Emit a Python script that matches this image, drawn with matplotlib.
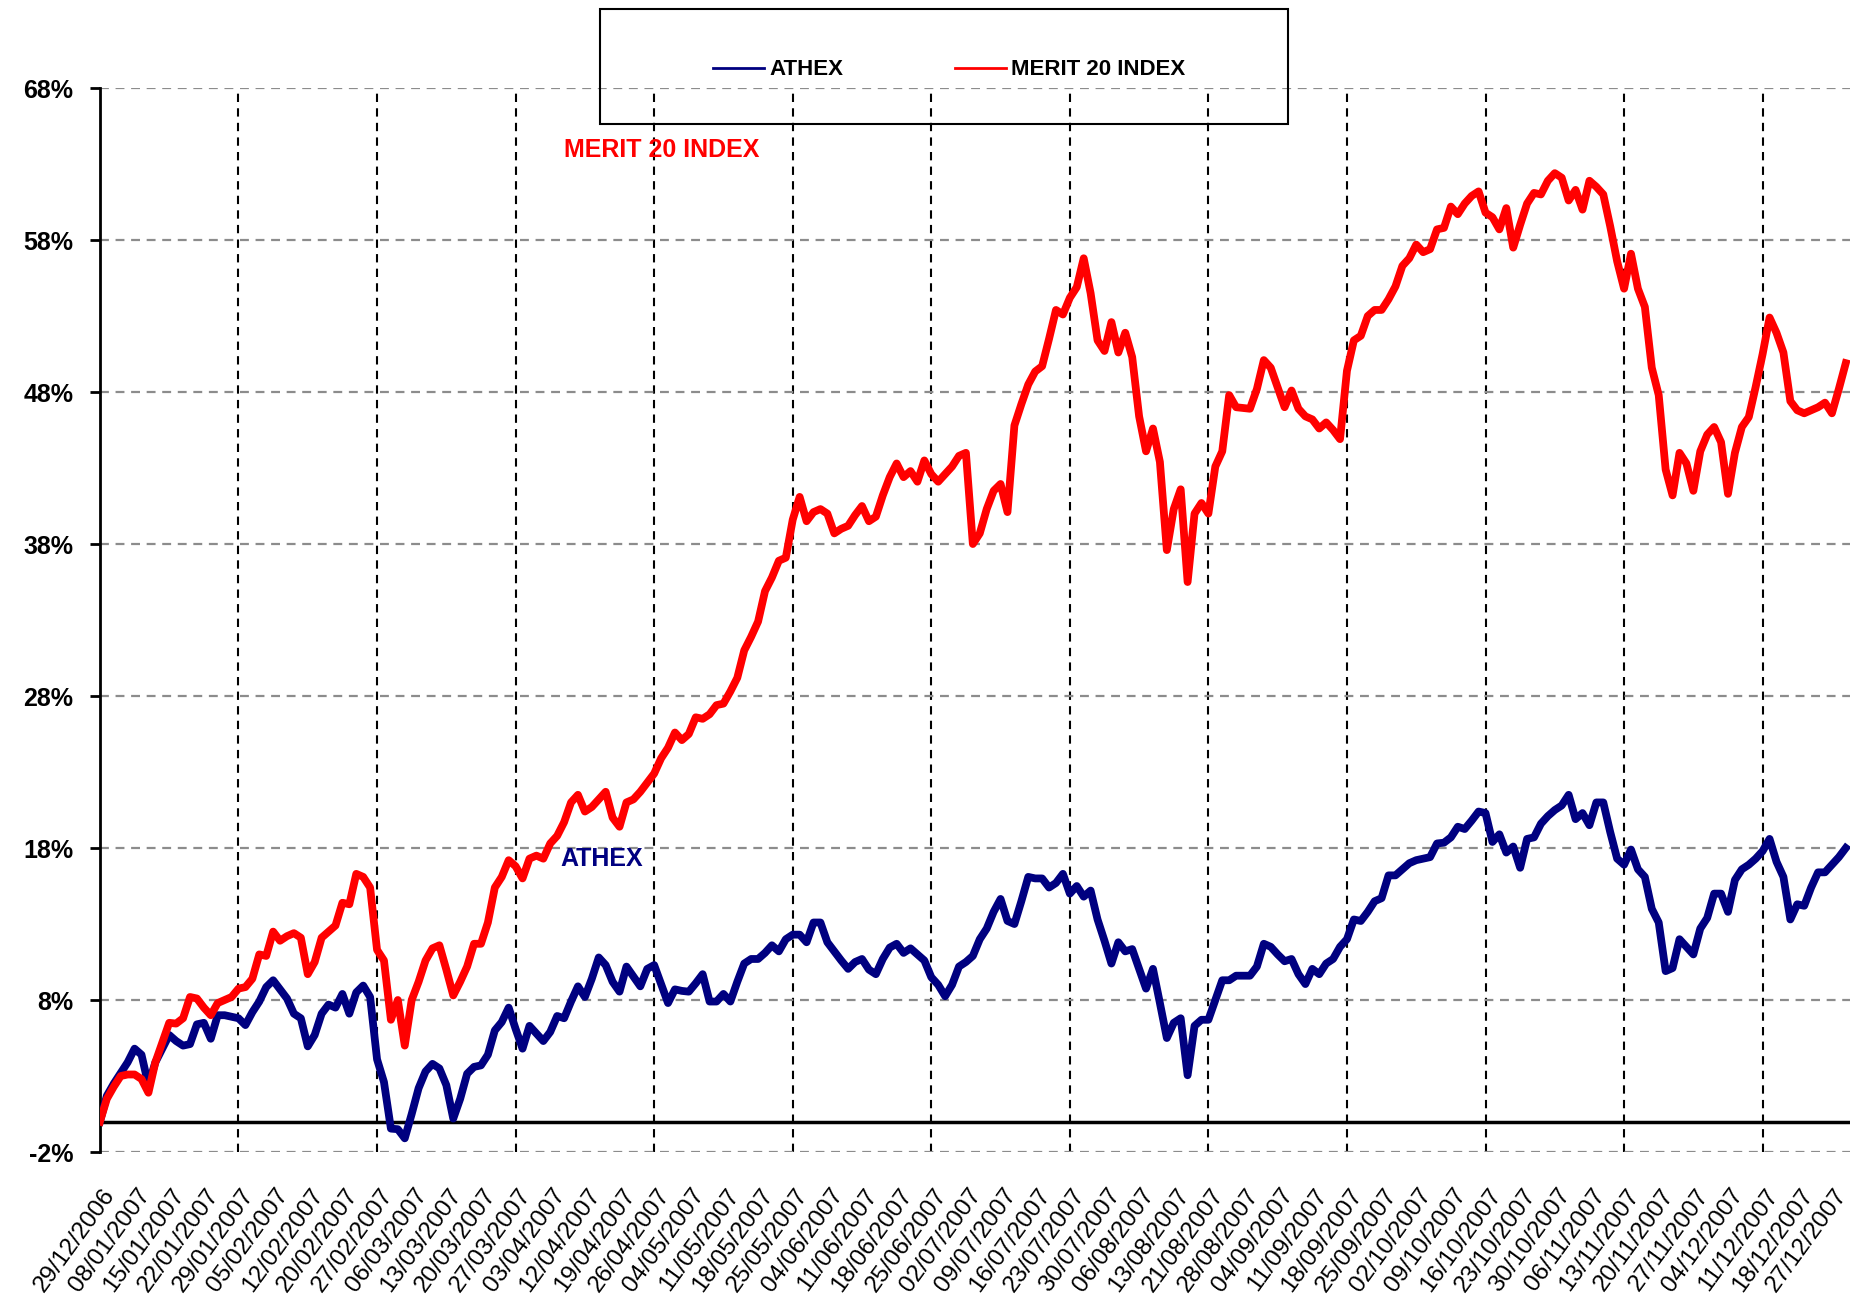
import matplotlib
matplotlib.use("Agg")
import matplotlib.pyplot as plt
import matplotlib.transforms as mtransforms
from matplotlib.patches import Rectangle
import numpy as np

plt.rcParams['font.family'] = ['Liberation Sans', 'DejaVu Sans']

# Cumulative return (%) since 29/12/2006, one value per trading day
merit = [
    0.0, 1.5, 2.3, 3.0, 3.1, 3.1, 2.8, 1.9, 3.9, 5.2,
    6.5, 6.45, 6.8, 8.2, 8.1, 7.5, 7.0, 7.8, 8.0, 8.2,
    8.75, 8.85, 9.4, 11.0, 10.9, 12.5, 11.9, 12.2, 12.4, 12.1,
    9.7, 10.5, 12.1, 12.5, 12.9, 14.4, 14.3, 16.3, 16.1, 15.4,
    11.3, 10.6, 6.7, 8.0, 5.0, 8.0, 9.2, 10.6, 11.4, 11.6,
    10.0, 8.3, 9.2, 10.2, 11.7, 11.7, 13.1, 15.4, 16.1, 17.2,
    16.8, 16.0, 17.3, 17.5, 17.3, 18.3, 18.8, 19.7, 21.0, 21.5,
    20.4, 20.7, 21.2, 21.7, 20.0, 19.4, 21.0, 21.2, 21.7, 22.3,
    22.9, 23.9, 24.6, 25.6, 25.1, 25.5, 26.6, 26.5, 26.8, 27.4,
    27.5, 28.3, 29.2, 31.0, 31.9, 32.9, 34.9, 35.8, 36.9, 37.1,
    39.6, 41.1, 39.5, 40.1, 40.3, 40.0, 38.7, 39.0, 39.2, 39.9,
    40.5, 39.5, 39.8, 41.2, 42.4, 43.3, 42.4, 42.8, 42.1, 43.5,
    42.6, 42.1, 42.6, 43.1, 43.8, 44.0, 38.0, 38.7, 40.3, 41.5,
    41.95, 40.1, 45.8, 47.2, 48.5, 49.35, 49.7, 51.5, 53.4, 53.1,
    54.2, 54.9, 56.8, 54.5, 51.4, 50.7, 52.6, 50.6, 51.9, 50.3,
    46.4, 44.1, 45.6, 43.4, 37.6, 40.3, 41.6, 35.5, 40.0, 40.7,
    40.0, 43.1, 44.1, 47.8, 47.0, 46.95, 46.9, 48.2, 50.1, 49.6,
    48.3, 47.0, 48.1, 46.9, 46.4, 46.2, 45.6, 46.0, 45.5, 44.9,
    49.4, 51.4, 51.7, 53.0, 53.4, 53.4, 54.1, 54.95, 56.3, 56.8,
    57.7, 57.2, 57.4, 58.7, 58.8, 60.2, 59.7, 60.4, 60.9, 61.2,
    59.8, 59.5, 58.7, 60.1, 57.5, 59.0, 60.4, 61.1, 61.0, 61.9,
    62.4, 62.1, 60.6, 61.3, 60.0, 61.9, 61.5, 61.0, 58.9, 56.6,
    54.8, 57.1, 54.8, 53.6, 49.6, 47.8, 42.9, 41.2, 44.0, 43.3,
    41.5, 44.1, 45.2, 45.7, 44.7, 41.3, 44.0, 45.7, 46.35, 48.35,
    50.5, 52.9, 51.9, 50.6, 47.4, 46.8, 46.6, 46.8, 47.0, 47.3,
    46.6, 48.2, 49.9,
]

athex = [
    0.0, 1.7, 2.5, 3.2, 3.9, 4.8, 4.4, 2.4, 3.9, 4.8,
    5.7, 5.3, 5.0, 5.1, 6.4, 6.5, 5.45, 7.0, 7.0, 6.9,
    6.8, 6.35, 7.2, 7.9, 8.85, 9.3, 8.7, 8.1, 7.1, 6.8,
    4.95, 5.7, 7.1, 7.7, 7.5, 8.4, 7.1, 8.5, 8.95, 8.2,
    4.1, 2.6, -0.46, -0.5, -1.1, 0.5, 2.2, 3.3, 3.8, 3.5,
    2.4, 0.2, 1.5, 3.15, 3.6, 3.7, 4.4, 6.0, 6.55, 7.5,
    6.1, 4.8, 6.3, 5.8, 5.3, 5.9, 6.95, 6.8, 7.9, 8.9,
    8.2, 9.4, 10.8, 10.3, 9.2, 8.55, 10.2, 9.55, 8.9, 10.05,
    10.3, 9.05, 7.8, 8.7, 8.6, 8.55, 9.1, 9.7, 7.9, 7.9,
    8.4, 7.9, 9.2, 10.4, 10.7, 10.7, 11.1, 11.6, 11.2, 12.0,
    12.3, 12.3, 11.8, 13.1, 13.1, 11.8, 11.2, 10.6, 10.05, 10.5,
    10.7, 10.0, 9.7, 10.7, 11.45, 11.7, 11.1, 11.4, 11.0, 10.6,
    9.5, 9.0, 8.25, 9.0, 10.2, 10.5, 10.9, 12.0, 12.7, 13.8,
    14.65, 13.2, 13.0, 14.5, 16.1, 16.0, 16.0, 15.4, 15.7, 16.3,
    15.0, 15.5, 14.8, 15.2, 13.3, 11.9, 10.4, 11.8, 11.2, 11.35,
    10.05, 8.75, 10.05, 7.8, 5.5, 6.5, 6.8, 3.05, 6.3, 6.7,
    6.7, 8.0, 9.3, 9.3, 9.6, 9.6, 9.6, 10.2, 11.7, 11.5,
    11.0, 10.55, 10.7, 9.7, 9.05, 10.05, 9.7, 10.4, 10.7, 11.5,
    12.0, 13.3, 13.2, 13.8, 14.5, 14.7, 16.2, 16.2, 16.6, 17.0,
    17.2, 17.3, 17.4, 18.3, 18.35, 18.7, 19.4, 19.25, 19.8, 20.4,
    20.3, 18.4, 18.9, 17.7, 18.1, 16.7, 18.6, 18.7, 19.6, 20.1,
    20.5, 20.8, 21.5, 19.9, 20.3, 19.5, 21.0, 21.0, 19.05, 17.3,
    16.9, 17.9, 16.6, 16.1, 14.0, 13.1, 9.9, 10.1, 12.0, 11.5,
    11.0, 12.7, 13.4, 15.0, 15.0, 13.8, 15.9, 16.6, 16.9, 17.3,
    17.8, 18.6, 17.1, 16.1, 13.3, 14.3, 14.2, 15.4, 16.4, 16.4,
    16.9, 17.4, 18.0,
]

date_labels = [
    "29/12/2006", "08/01/2007", "15/01/2007", "22/01/2007", "29/01/2007",
    "05/02/2007", "12/02/2007", "20/02/2007", "27/02/2007", "06/03/2007",
    "13/03/2007", "20/03/2007", "27/03/2007", "03/04/2007", "12/04/2007",
    "19/04/2007", "26/04/2007", "04/05/2007", "11/05/2007", "18/05/2007",
    "25/05/2007", "04/06/2007", "11/06/2007", "18/06/2007", "25/06/2007",
    "02/07/2007", "09/07/2007", "16/07/2007", "23/07/2007", "30/07/2007",
    "06/08/2007", "13/08/2007", "21/08/2007", "28/08/2007", "04/09/2007",
    "11/09/2007", "18/09/2007", "25/09/2007", "02/10/2007", "09/10/2007",
    "16/10/2007", "23/10/2007", "30/10/2007", "06/11/2007", "13/11/2007",
    "20/11/2007", "27/11/2007", "04/12/2007", "11/12/2007", "18/12/2007",
    "27/12/2007",
]
label_step = 5      # trading days between date labels
grid_step = 20      # trading days between vertical grid lines
y_ticks = [-2, 8, 18, 28, 38, 48, 58, 68]

RED = "#FF0000"
NAVY = "#000080"

fig = plt.figure(figsize=(18.54, 13.10), dpi=100)
ax = fig.add_axes([0.0539, 0.1206, 0.9439, 0.8122])

x = np.arange(len(merit))
n_last = len(merit) - 1

# grid
ax.set_ylim(-2, 68)
ax.set_xlim(0, n_last + 0.6)
ax.set_yticks(y_ticks)
ax.set_yticklabels([f"{v}%" for v in y_ticks], fontsize=18, fontweight="bold")
ax.yaxis.grid(True, color="#8c8c8c", linestyle=(0, (4, 3)), linewidth=1.6, zorder=0)
for xv in range(grid_step, n_last, grid_step):
    ax.axvline(xv, color="black", linestyle=(0, (4, 3)), linewidth=1.5, zorder=1)
ax.axhline(0, color="black", linewidth=2.5, zorder=2)

ax.plot(x, athex, color=NAVY, linewidth=5.6, solid_joinstyle="round", zorder=3)
ax.plot(x, merit, color=RED, linewidth=5.6, solid_joinstyle="round", zorder=4)

# spines and ticks
for side in ["top", "right", "bottom"]:
    ax.spines[side].set_visible(False)
ax.spines["left"].set_linewidth(2)
ax.tick_params(axis="y", length=7, width=2, pad=12)

ax.set_xticks(np.arange(len(date_labels)) * label_step)
ax.set_xticklabels(date_labels, rotation=54, ha="right", va="center",
                   rotation_mode="anchor", fontsize=17.5)
ax.tick_params(axis="x", length=0, pad=28)
shift = mtransforms.ScaledTranslation(11 / 100, 0, fig.dpi_scale_trans)
for lbl in ax.get_xticklabels():
    lbl.set_transform(lbl.get_transform() + shift)

# series labels inside the plot
ax.text(67, 63.9, "MERIT 20 INDEX", color=RED, fontsize=18, fontweight="bold",
        ha="left", va="center")
ax.text(66.5, 17.3, "ATHEX", color=NAVY, fontsize=18, fontweight="bold",
        ha="left", va="center")

# legend box (transparent, grid shows through)
fig.patches.append(Rectangle((0.3236, 0.9053), 0.3711, 0.0878, transform=fig.transFigure,
                             fill=False, edgecolor="black", linewidth=1.5))
h1, = ax.plot([], [], color=NAVY, linewidth=2)
h2, = ax.plot([], [], color=RED, linewidth=2)
fig.legend([h1, h2], ["ATHEX", "MERIT 20 INDEX"], loc="center",
           bbox_to_anchor=(0.512, 0.9466), ncol=2, frameon=False,
           prop={"weight": "bold", "size": 16},
           handlelength=2.3, handletextpad=0.25, columnspacing=5.0)

fig.savefig("out.png", dpi=100)
